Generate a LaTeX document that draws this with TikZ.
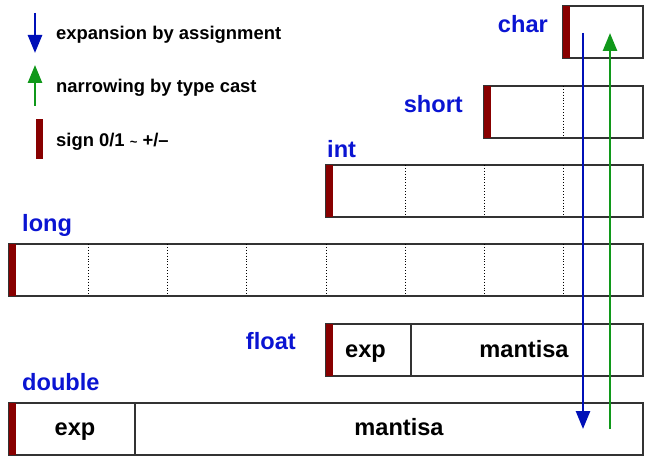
\documentclass[tikz,border=0pt]{standalone}
\usepackage{fontspec}
\setmainfont{Liberation Sans}
\usetikzlibrary{arrows.meta}
\definecolor{lblblue}{HTML}{0A14D2}
\definecolor{arrblue}{HTML}{0010B8}
\definecolor{arrgreen}{HTML}{10981A}
\definecolor{signred}{HTML}{880000}
\definecolor{edge}{HTML}{333333}
\tikzset{
  barbox/.style={draw=edge, line width=1.3pt, inner sep=0pt, outer sep=0pt, minimum height=52pt, anchor=north west},
  signbar/.style={fill=signred, draw=none, inner sep=0pt, outer sep=0pt, minimum width=7pt, minimum height=52pt, anchor=north west},
  typelbl/.style={text=lblblue, font=\fontsize{23.6}{28}\selectfont\bfseries, inner sep=0pt},
  celltxt/.style={text=black, font=\fontsize{23.6}{28}\selectfont\bfseries, inner sep=0pt, anchor=base},
  legtxt/.style={text=black, font=\fontsize{18.4}{22}\selectfont\bfseries, inner sep=0pt, anchor=base west},
  bytesep/.style={dotted, line width=0.9pt, black},
  fieldsep/.style={line width=1.3pt, draw=edge},
  bluearr/.style={draw=arrblue, line width=2.6pt, -{Triangle[length=18pt,width=14pt]}},
  greenarr/.style={draw=arrgreen, line width=2.6pt, -{Triangle[length=18pt,width=14pt]}}
}
\begin{document}
\begin{tikzpicture}[x=1pt,y=-1pt]
\useasboundingbox (0,0) rectangle (652,462);
% legend
\coordinate (lb1) at (35,13); \coordinate (lb2) at (35,53);
\draw[bluearr] (lb1) -- (lb2);
\node[legtxt] (lt1) at (56,40) {expansion by assignment};
\coordinate (lg1) at (35,106); \coordinate (lg2) at (35,65);
\draw[greenarr] (lg1) -- (lg2);
\node[legtxt] (lt2) at (56,93) {narrowing by type cast};
\node[signbar, minimum height=40pt] (ls) at (36,119) {};
\node[legtxt] (lt3) at (56,147) {sign 0/1 {\fontsize{13}{14}\selectfont\textasciitilde} +/\textendash};
% char
\node[barbox, minimum width=80pt] (char) at (563,6) {};
\node[signbar] (charsign) at (563,6) {};
\node[typelbl, anchor=base east] (charlbl) at (548,33) {char};
% short
\node[barbox, minimum width=159pt] (short) at (484,86) {};
\node[signbar] (shortsign) at (484,86) {};
\node[typelbl, anchor=base east] (shortlbl) at (463,113) {short};
\draw[bytesep] (563,86) -- (563,138);
% int
\node[barbox, minimum width=317pt] (int) at (326,165) {};
\node[signbar] (intsign) at (326,165) {};
\node[typelbl, anchor=base west] (intlbl) at (327,158) {int};
\foreach \x in {405,484,563} \draw[bytesep] (\x,165) -- (\x,217);
% long
\node[barbox, minimum width=634pt] (long) at (9,244) {};
\node[signbar] (longsign) at (9,244) {};
\node[typelbl, anchor=base west] (longlbl) at (22,231) {long};
\foreach \x in {88,167,246,326,405,484,563} \draw[bytesep] (\x,244) -- (\x,296);
% float
\node[barbox, minimum width=317pt] (float) at (326,324) {};
\node[signbar] (floatsign) at (326,324) {};
\node[typelbl, anchor=base east] (floatlbl) at (296,349) {float};
\draw[fieldsep] (411,324) -- (411,376);
\node[celltxt] (fexp) at (365.5,357) {exp};
\node[celltxt] (fman) at (524,357) {mantisa};
% double
\node[barbox, minimum width=634pt] (double) at (9,403) {};
\node[signbar] (doublesign) at (9,403) {};
\node[typelbl, anchor=base west] (doublelbl) at (22,390) {double};
\draw[fieldsep] (135,403) -- (135,455);
\node[celltxt] (dexp) at (75,435) {exp};
\node[celltxt] (dman) at (399,435) {mantisa};
% conversion arrows
\coordinate (bA) at (583,33); \coordinate (bB) at (583,429);
\draw[bluearr] (bA) -- (bB);
\coordinate (gA) at (610,429); \coordinate (gB) at (610,33);
\draw[greenarr] (gA) -- (gB);
\end{tikzpicture}
\end{document}
